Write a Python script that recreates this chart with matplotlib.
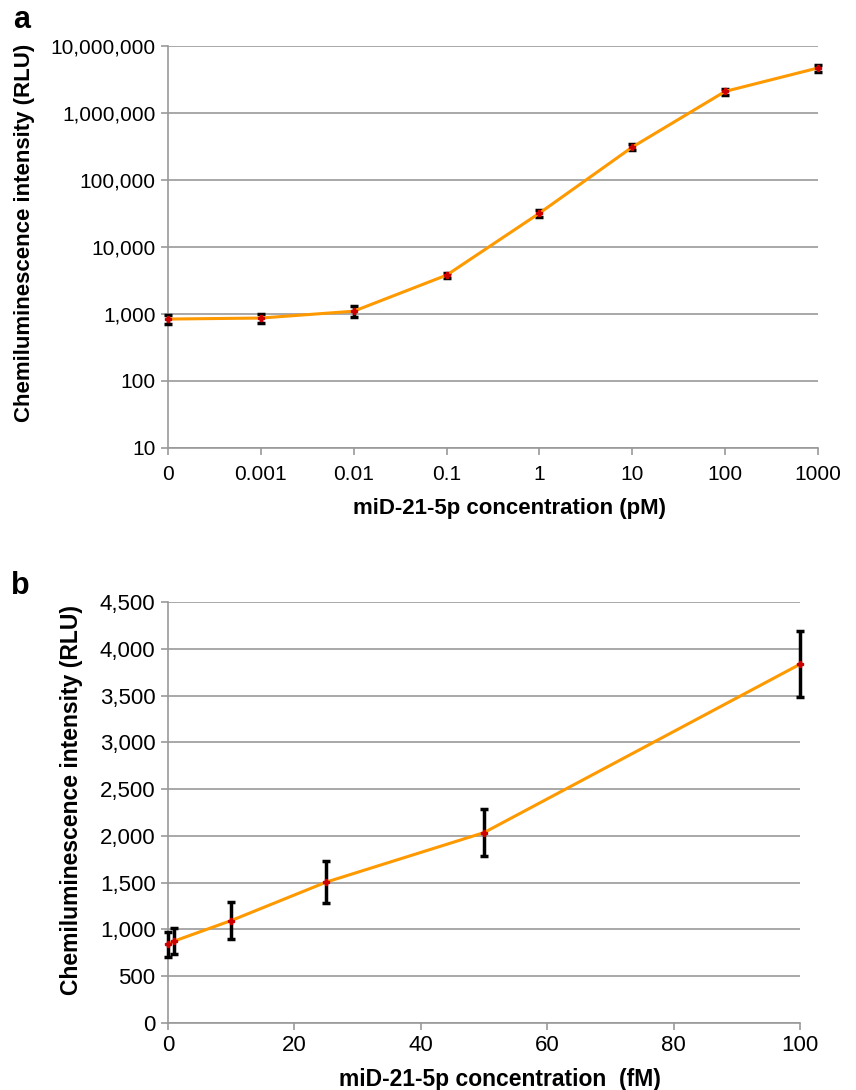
import numpy as np
import matplotlib.pyplot as plt
from matplotlib.ticker import FuncFormatter, FixedLocator

plt.rcParams['font.family'] = ['Liberation Sans', 'DejaVu Sans']

# panel a: pM series (categorical x axis, log y)
conc_pm = ['0', '0.001', '0.01', '0.1', '1', '10', '100', '1000']
rlu_a = [840, 870, 1100, 3800, 32000, 310000, 2100000, 4700000]
err_a = [130, 140, 200, 350, 3500, 30000, 220000, 550000]

# panel b: fM series (linear)
conc_fm = [0, 1, 10, 25, 50, 100]
rlu_b = [840, 876, 1095, 1505, 2035, 3835]
err_b = [130, 140, 200, 225, 255, 355]

orange = '#FF9900'
grid_c = '#999999'

fig = plt.figure(figsize=(8.56, 10.9), dpi=100)
ax1 = fig.add_axes([0.1963, 0.589, 0.7593, 0.3688])
ax2 = fig.add_axes([0.1963, 0.0615, 0.7383, 0.3862])


def style(ax):
    for s in ['top', 'right']:
        ax.spines[s].set_visible(False)
    for s in ['left', 'bottom']:
        ax.spines[s].set_color(grid_c)
        ax.spines[s].set_linewidth(1.2)
    ax.yaxis.grid(True, color=grid_c, linewidth=1.2)
    ax.set_axisbelow(True)
    ax.tick_params(axis='both', colors=grid_c, length=5, width=1.2,
                   labelcolor='black', pad=4)


def draw(ax, x, y, e):
    eb = ax.errorbar(x, y, yerr=e, fmt='none', ecolor='black',
                     elinewidth=2.5, capsize=3, capthick=2.5, zorder=3)
    for a in eb.get_children():
        a.set_clip_on(False)
    ax.plot(x, y, color=orange, linewidth=2.2, zorder=4, clip_on=False)
    ax.plot(x, y, linestyle='none', marker='P', markersize=4,
            color='#CC0000', zorder=5, clip_on=False)


xa = np.arange(len(conc_pm))
draw(ax1, xa, rlu_a, err_a)
ax1.set_yscale('log')
ax1.set_ylim(10, 1e7)
ax1.set_xlim(0, len(conc_pm) - 1)
ax1.set_xticks(xa)
ax1.set_xticklabels(conc_pm)
ax1.yaxis.set_major_locator(FixedLocator([10 ** k for k in range(1, 8)]))
ax1.yaxis.set_minor_locator(FixedLocator([]))
ax1.yaxis.set_major_formatter(FuncFormatter(lambda v, p: f'{v:,.0f}'))
style(ax1)
ax1.tick_params(axis='both', labelsize=15)
ax1.tick_params(axis='x', pad=7)
ax1.set_xlabel('miD-21-5p concentration (pM)', fontsize=16,
               fontweight='bold')
ax1.xaxis.set_label_coords(0.526, -0.124)
ax1.set_ylabel('Chemiluminescence intensity (RLU)', fontsize=16,
               fontweight='bold')
ax1.yaxis.set_label_coords(-0.205, 0.535)

draw(ax2, conc_fm, rlu_b, err_b)
ax2.set_xlim(0, 100)
ax2.set_ylim(0, 4500)
ax2.set_xticks(np.arange(0, 101, 20))
ax2.set_yticks(np.arange(0, 4501, 500))
ax2.yaxis.set_major_formatter(FuncFormatter(lambda v, p: f'{v:,.0f}'))
style(ax2)
ax2.tick_params(axis='both', labelsize=16)
ax2.set_xlabel('miD-21-5p concentration  (fM)', fontsize=16.5,
               fontweight='bold')
ax2.xaxis.set_label_coords(0.525, -0.106)
ax2.set_ylabel('Chemiluminescence intensity (RLU)', fontsize=16.5,
               fontweight='bold')
ax2.yaxis.set_label_coords(-0.135, 0.53)

fig.text(0.015, 0.974, 'a', fontsize=22, fontweight='bold')
fig.text(0.013, 0.455, 'b', fontsize=22, fontweight='bold')

fig.savefig('out.png', dpi=100)
